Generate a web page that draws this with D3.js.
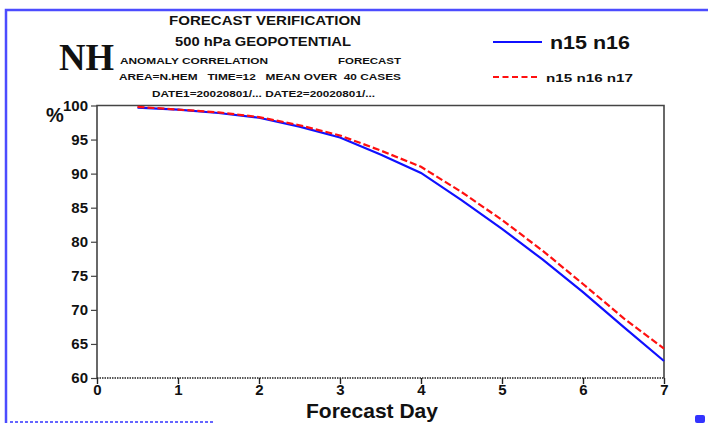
<!DOCTYPE html>
<html><head><meta charset="utf-8">
<script src="https://cdn.jsdelivr.net/npm/d3@7"></script>
<style>html,body{margin:0;padding:0;background:#fff;}svg{display:block;}text{white-space:pre;}</style>
</head><body>
<svg id="c" width="708" height="423"></svg>
<script>
const days = [0.5,1,1.5,2,2.5,3,3.5,4,4.5,5,5.5,6,6.5,7];
const seriesA = [99.7,99.4,98.9,98.2,96.9,95.3,92.8,90.1,86.1,81.9,77.4,72.6,67.5,62.5]; // n15 n16
const seriesB = [99.8,99.4,99.0,98.3,97.1,95.6,93.4,91.0,87.3,83.2,78.7,73.8,68.8,64.3]; // n15 n16 n17
const xTicks = [0,1,2,3,4,5,6,7];
const yTicks = [60,65,70,75,80,85,90,95,100];
const legendNames = ["n15 n16","n15 n16 n17"];

const svg = d3.select("#c");
const F = "Liberation Sans, Arial, sans-serif";
const L=97, R=664, T=105.5, B=378;
const x = d3.scaleLinear().domain([0,7]).range([L,R]);
const y = d3.scaleLinear().domain([60,100]).range([B,T]);

// outer blue frame
svg.append("path").attr("d","M6,423 V10 H708").attr("fill","none")
  .attr("stroke","#4c4cff").attr("stroke-width",2.5);

// plot box
svg.append("path").attr("d",`M${L},${B} V${T} H${R} V${B}`).attr("fill","none")
  .attr("stroke","#444").attr("stroke-width",1.6);
svg.append("line").attr("x1",L).attr("x2",R).attr("y1",B).attr("y2",B)
  .attr("stroke","#222").attr("stroke-width",1.4).attr("stroke-dasharray","1.5,1");

// y axis
const ya = svg.append("g").attr("transform",`translate(${L},0)`)
  .call(d3.axisLeft(y).tickValues(yTicks).tickFormat(d3.format("d")).tickSize(6).tickPadding(3));
ya.select(".domain").remove();
ya.selectAll("line").attr("stroke","#444").attr("stroke-width",1.2);
ya.selectAll("text").attr("font-family",F).attr("font-weight","bold").attr("font-size",15)
  .attr("fill","#111");

// x axis
const xa = svg.append("g").attr("transform",`translate(0,${B})`)
  .call(d3.axisBottom(x).tickValues(xTicks).tickFormat(d3.format("d")).tickSize(6).tickPadding(0));
xa.select(".domain").remove();
xa.selectAll("line").attr("stroke","#222").attr("stroke-width",1.4);
xa.selectAll("text").attr("font-family",F).attr("font-weight","bold").attr("font-size",15)
  .attr("fill","#111");

// lines
const line = d3.line().x((d,i)=>x(days[i])).y(d=>y(d));
svg.append("path").datum(seriesA).attr("d",line).attr("fill","none")
  .attr("stroke","#1010ff").attr("stroke-width",2.2);
svg.append("path").datum(seriesB).attr("d",line).attr("fill","none")
  .attr("stroke","#ff1010").attr("stroke-width",2.2).attr("stroke-dasharray","7,3");

// titles
const t = (txt,xx,yy,size,opts={})=>{
  const e = svg.append("text").attr("x",xx).attr("y",yy).text(txt)
    .attr("font-family",opts.family||F).attr("font-weight","bold").attr("font-size",size)
    .attr("fill",opts.fill||"#111").attr("text-anchor",opts.anchor||"start");
  if(opts.len) e.attr("textLength",opts.len).attr("lengthAdjust","spacingAndGlyphs");
  return e;
};
t("FORECAST VERIFICATION",265,25,12.5,{anchor:"middle",len:192});
t("500 hPa GEOPOTENTIAL",263,46,12.5,{anchor:"middle",len:176});
t("NH",59,70,37,{family:"Liberation Serif, Times New Roman, serif",len:55});
t("ANOMALY CORRELATION",120,64,9.5,{len:148});
t("FORECAST",338,64,9.5,{len:63});
t("AREA=N.HEM   TIME=12   MEAN OVER  40 CASES",119,80,9.5,{len:282});
t("DATE1=20020801/... DATE2=20020801/...",152,97,9.5,{len:223});
t("%",46,122,20,{});
t("Forecast Day",372,418,21,{anchor:"middle"});

// legend
svg.append("line").attr("x1",493).attr("x2",542).attr("y1",42).attr("y2",42)
  .attr("stroke","#1010ff").attr("stroke-width",2);
t(legendNames[0],550,49,18,{len:80});
svg.append("line").attr("x1",493).attr("x2",539).attr("y1",77).attr("y2",77)
  .attr("stroke","#ff1010").attr("stroke-width",2).attr("stroke-dasharray","6,3.5");
t(legendNames[1],546,82,11,{len:87});

// bottom fragments
svg.append("line").attr("x1",10).attr("x2",215).attr("y1",422).attr("y2",422)
  .attr("stroke","#6666ff").attr("stroke-width",2).attr("stroke-dasharray","3,2");
svg.append("rect").attr("x",695).attr("y",415).attr("width",10).attr("height",8)
  .attr("rx",2).attr("fill","#3333ff");
</script>
</body></html>
